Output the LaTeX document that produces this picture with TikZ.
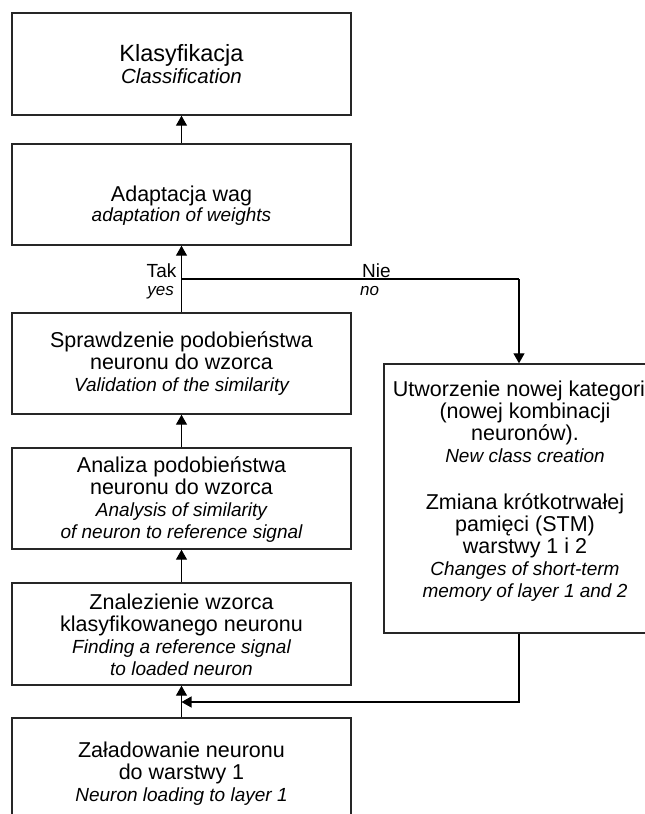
\documentclass[tikz,border=0pt]{standalone}
\usepackage{fontspec}
\setmainfont{Liberation Sans}
\usetikzlibrary{arrows.meta}
\newcommand{\engl}[1]{{\fontsize{19pt}{22pt}\selectfont\itshape #1}}
\begin{document}
\begin{tikzpicture}[x=1pt,y=-1pt,
  box/.style={draw=black!85, line width=1.4pt, minimum width=339pt, minimum height=101pt, inner sep=0pt},
  txt/.style={align=center, inner sep=0pt, font=\fontsize{21.5pt}{22pt}\selectfont},
  lab/.style={inner sep=0pt, font=\fontsize{19pt}{22pt}\selectfont},
  elab/.style={inner sep=0pt, font=\fontsize{17pt}{20pt}\selectfont\itshape},
  ln/.style={line width=1.2pt, draw=black},
  arr/.style={ln, -{Triangle[length=10pt,width=11pt]}}]
\useasboundingbox (0,0) rectangle (645,814);
\clip (0,0) rectangle (645,814);
% boxes
\node[box, minimum height=102pt] (K) at (181.5,64) {};
\node[box] (A) at (181.5,194.5) {};
\node[box] (S) at (181.5,363.5) {};
\node[box] (An) at (181.5,498.5) {};
\node[box, minimum height=102pt] (Z) at (181.5,634) {};
\node[box] (L) at (181.5,768.5) {};
\node[box, minimum width=282pt, minimum height=269pt] (rb) at (525,498.5) {};
% texts
\node[txt, font=\fontsize{23.5pt}{22pt}\selectfont] (Kt) at (181.5,64.5)
  {Klasyfikacja\\{\fontsize{20.5pt}{22pt}\selectfont\itshape Classification}};
\node[txt] (At) at (181.5,206) {Adaptacja wag\\[-2pt]\engl{adaptation of weights}};
\node[txt] (St) at (181.5,364) {Sprawdzenie podobieństwa\\neuronu do wzorca\\\engl{Validation of the similarity}};
\node[txt] (Ant) at (181.5,500) {Analiza podobieństwa\\neuronu do wzorca\\\engl{Analysis of similarity}\\\engl{of neuron to reference signal}};
\node[txt] (Zt) at (181.5,634.5) {Znalezienie wzorca\\klasyfikowanego neuronu\\\engl{Finding a reference signal}\\\engl{to loaded neuron}};
\node[txt] (Lt) at (181.5,774) {Załadowanie neuronu\\do warstwy 1\\\engl{Neuron loading to layer 1}};
\node[txt] (rbt) at (525,491.5) {\hspace*{-12pt}Utworzenie nowej kategori\\(nowej kombinacji\\neuronów).\\\engl{New class creation}\\[25pt]Zmiana krótkotrwałej\\pamięci (STM)\\warstwy 1 i 2\\\engl{Changes of short-term}\\\engl{memory of layer 1 and 2}};
% labels
\node[lab, anchor=base east] (tak) at (176.5,277) {Tak};
\node[elab, anchor=base east] (yes) at (174,295) {yes};
\node[lab, anchor=base west] (nie) at (362,277) {Nie};
\node[elab, anchor=base west] (no) at (360,295) {no};
% connectors
\coordinate (br) at (181.5,279);
\coordinate (nx) at (519,279);
\coordinate (mj) at (519,702);
\draw[arr] (A.north) -- (K.south);
\draw[arr] (S.north) -- (A.south);
\draw[ln] (br) -- (nx);
\draw[arr] (nx) -- (nx |- rb.north);
\draw[arr] (An.north) -- (S.south);
\draw[arr] (Z.north) -- (An.south);
\draw[arr] (L.north) -- (Z.south);
\draw[arr] (nx |- rb.south) -- (mj) -- (mj -| L.north);
\end{tikzpicture}
\end{document}
